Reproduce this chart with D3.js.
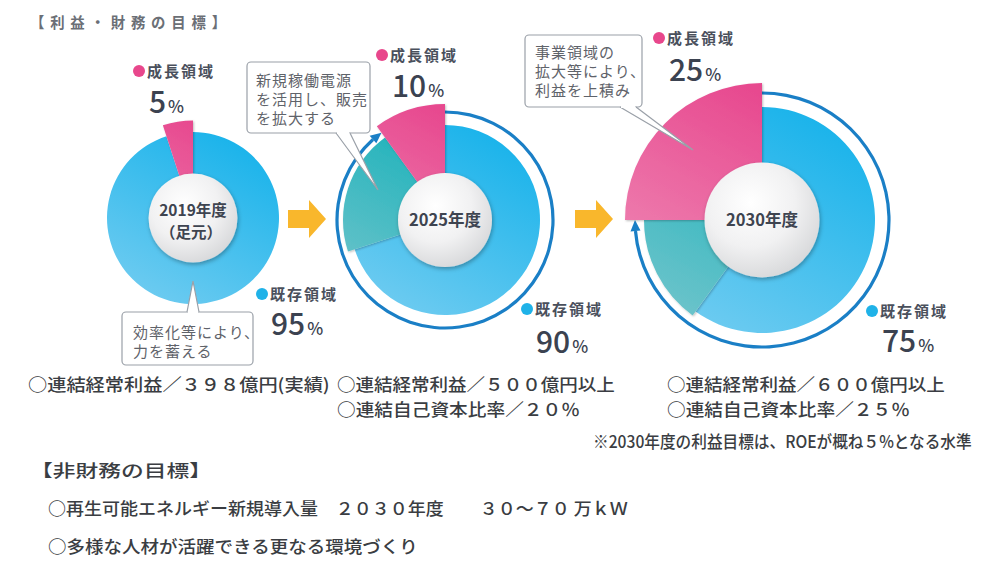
<!DOCTYPE html>
<html><head><meta charset="utf-8">
<script src="https://cdn.jsdelivr.net/npm/d3@7"></script>
<style>
html,body{margin:0;padding:0;background:#fff;}
svg{display:block;}
text{font-family:"Noto Sans CJK JP","Noto Sans",sans-serif;}
</style></head>
<body>
<script>
// ---------- DATA ----------
const years = ["2019年度", "2025年度", "2030年度"];
const yearSub = ["（足元）", "", ""];
const growthShare = [5, 10, 25];          // 成長領域 %
const existingShare = [95, 90, 75];       // 既存領域 %
const shiftShare = [0, 20, 15];           // part of 既存領域 highlighted (teal)
const growthLabel = "成長領域";
const existingLabel = "既存領域";
const callouts = [
  ["効率化等により、", "力を蓄える"],
  ["新規稼働電源", "を活用し、販売", "を拡大する"],
  ["事業領域の", "拡大等により、", "利益を上積み"]
];
const title1 = "【利益・財務の目標】";
const finRow1 = ["○連結経常利益／３９８億円(実績)", "○連結経常利益／５００億円以上", "○連結経常利益／６００億円以上"];
const finRow2 = ["", "○連結自己資本比率／２０％", "○連結自己資本比率／２５％"];
const finNote = "※2030年度の利益目標は、ROEが概ね５%となる水準";
const title2 = "【非財務の目標】";
const nonFin = ["○再生可能エネルギー新規導入量　２０３０年度　　３０～７０ 万ｋＷ", "○多様な人材が活躍できる更なる環境づくり"];

// ---------- LAYOUT ----------
const W = 1000, H = 577;
const cx = [193, 445, 762], cy = [218, 220, 220];
const rOut = [86, 95, 113], rIn = [44.5, 47, 57.5];
const rGrowth = [97.5, 116, 137], rShift = [86, 102, 118], rRing = [0, 108, 127];
const growthLblPos = [[139, 71], [382, 55], [659, 38]];
const growthNumPos = [[149, 113], [392, 97], [669, 81]];
const existLblPos = [[262, 294], [527, 309], [872, 311]];
const existNumPos = [[271, 335], [536, 353], [882, 352]];
const boxes = [
  {x:122, y:312, w:131, h:53, tail:[[187,312],[199,312],[193,281]], tx:133, ty:[333,352]},
  {x:247, y:62, w:123, h:71, tail:[[336,133],[350,133],[378,190]], tx:256, ty:[81,100,119]},
  {x:525, y:35, w:117, h:72, tail:[[620,107],[636,107],[693,150]], tx:535, ty:[53,72,91]}
];

const svg = d3.select("body").append("svg").attr("width", W).attr("height", H);
const defs = svg.append("defs");

function lin(id, c1, c2, r){
  const g = defs.append("linearGradient").attr("id", id)
    .attr("gradientUnits","userSpaceOnUse")
    .attr("x1", 0.6*r).attr("y1", -1.1*r).attr("x2", -0.6*r).attr("y2", 1.1*r);
  g.append("stop").attr("offset","0%").attr("stop-color",c1);
  g.append("stop").attr("offset","100%").attr("stop-color",c2);
}
const rg = defs.append("radialGradient").attr("id","white").attr("cx","40%").attr("cy","35%").attr("r","70%");
rg.append("stop").attr("offset","0%").attr("stop-color","#ffffff");
rg.append("stop").attr("offset","55%").attr("stop-color","#f1f1f2");
rg.append("stop").attr("offset","100%").attr("stop-color","#d6d7d9");
const f = defs.append("filter").attr("id","sh").attr("x","-30%").attr("y","-30%").attr("width","160%").attr("height","160%");
f.append("feDropShadow").attr("dx",1).attr("dy",2).attr("stdDeviation",2).attr("flood-color","#000").attr("flood-opacity",0.3);
const f2 = defs.append("filter").attr("id","sh2").attr("x","-30%").attr("y","-30%").attr("width","160%").attr("height","160%");
f2.append("feDropShadow").attr("dx",1).attr("dy",1).attr("stdDeviation",1).attr("flood-color","#000").attr("flood-opacity",0.25);

const pie = d3.pie().sort(null).value(d => d.v).startAngle(0).endAngle(2*Math.PI);

years.forEach((yr, i) => {
  const g = svg.append("g").attr("transform", `translate(${cx[i]},${cy[i]})`);
  lin("gB"+i, "#12b1ea", "#74cdf1", rOut[i]);
  lin("gP"+i, "#e6418a", "#f08db8", rOut[i]);
  lin("gT"+i, "#06adb6", "#73c5cc", rOut[i]);
  const slices = [
    {k:"B", v: existingShare[i] - shiftShare[i], r: rOut[i]},
    {k:"T", v: shiftShare[i], r: rShift[i]},
    {k:"P", v: growthShare[i], r: rGrowth[i]}
  ];
  const arcs = pie(slices);
  // ring with arrow
  if (i > 0) {
    const R = rRing[i];
    const endA = 2*Math.PI*(existingShare[i]/100);
    const headLen = 11;
    const bodyEnd = endA - headLen / R;
    g.append("path").attr("d", d3.arc().innerRadius(R-1.6).outerRadius(R+1.6).startAngle(0.0).endAngle(bodyEnd)())
      .attr("fill", "#1a7fc6");
    const tip = [R*Math.sin(endA), -R*Math.cos(endA)];
    const b = bodyEnd;
    const bl = [(R-5)*Math.sin(b), -(R-5)*Math.cos(b)];
    const br = [(R+5)*Math.sin(b), -(R+5)*Math.cos(b)];
    g.append("path").attr("d", `M${tip}L${bl}L${br}Z`).attr("fill", "#1a7fc6");
  }
  g.selectAll("path.s").data(arcs.filter(d => d.data.v > 0)).join("path").attr("class","s")
    .attr("d", d => d3.arc().innerRadius(rIn[i]-4).outerRadius(d.data.r)(d))
    .attr("fill", d => `url(#g${d.data.k}${i})`)
    .attr("filter", d => d.data.k === "B" ? null : "url(#sh2)");
  g.append("circle").attr("r", rIn[i]).attr("fill","url(#white)").attr("filter","url(#sh)");
  if (yearSub[i]) {
    g.append("text").attr("text-anchor","middle").attr("fill","#3e4450")
      .attr("font-size", 15.5).attr("font-weight", 700).attr("x", 0).attr("y", -2).text(yr);
    g.append("text").attr("text-anchor","middle").attr("fill","#3e4450")
      .attr("font-size", 15.5).attr("font-weight", 700).attr("x", -2).attr("y", 20).text(yearSub[i]);
  } else {
    g.append("text").attr("text-anchor","middle").attr("fill","#3e4450")
      .attr("font-size", 16.5).attr("font-weight", 700).attr("x", 0).attr("y", 6).text(yr);
  }
});

// arrows between donuts
const arrowX = [288, 575];
arrowX.forEach(x0 => {
  const y0 = 219;
  svg.append("path").attr("d", `M${x0},${y0-9}h21v-10l17,19l-17,19v-10h-21z`).attr("fill", "#f9b72c");
});

// labels
function catLabel(pos, color, label){
  svg.append("circle").attr("cx", pos[0]).attr("cy", pos[1]).attr("r", 6).attr("fill", color);
  svg.append("text").attr("x", pos[0]+8).attr("y", pos[1]+5.5).attr("fill","#4a505c")
    .attr("font-size", 15).attr("font-weight", 700).attr("letter-spacing", 2).text(label);
}
function bigNum(pos, v){
  const t = svg.append("text").attr("x", pos[0]).attr("y", pos[1]).attr("fill","#3b4250")
    .attr("font-family","Roboto, sans-serif").attr("font-weight",500);
  t.append("tspan").attr("font-size", 30).text(v);
  t.append("tspan").attr("font-size", 17).attr("dx", 2).text("%");
}
years.forEach((yr, i) => {
  catLabel(growthLblPos[i], "#e8478c", growthLabel);
  bigNum(growthNumPos[i], growthShare[i]);
  catLabel(existLblPos[i], "#1fb2e8", existingLabel);
  bigNum(existNumPos[i], existingShare[i]);
});

// callouts
boxes.forEach((b, i) => {
  const gb = svg.append("g");
  gb.append("rect").attr("x", b.x).attr("y", b.y).attr("width", b.w).attr("height", b.h).attr("rx", 4)
    .attr("fill","#fff").attr("stroke","#9aa0a8").attr("stroke-width",1.2);
  gb.append("path").attr("d", `M${b.tail[0]}L${b.tail[2]}L${b.tail[1]}`)
    .attr("fill","#fff").attr("stroke","#9aa0a8").attr("stroke-width",1.2);
  gb.append("line").attr("x1", b.tail[0][0]+1).attr("x2", b.tail[1][0]-1).attr("y1", b.tail[0][1]).attr("y2", b.tail[1][1])
    .attr("stroke","#fff").attr("stroke-width",2);
  callouts[i].forEach((line, j) => {
    gb.append("text").attr("x", b.tx).attr("y", b.ty[j]+5).attr("fill","#5f636a")
      .attr("font-size", 15).attr("letter-spacing", 1).text(line);
  });
});

// text fitted horizontally by scaling
function fitText(x, y, s, len, opts){
  opts = opts || {};
  const g = svg.append("g").attr("transform", `translate(${x},${y})`);
  const t = g.append("text").attr("x", 0).attr("y", 0).attr("fill", opts.color || "#3a3d42")
    .attr("font-size", opts.size || 17).attr("font-weight", opts.weight || 500)
    .attr("letter-spacing", opts.ls || 0).text(s);
  const nat = t.node().getComputedTextLength();
  g.attr("transform", `translate(${x},${y}) scale(${len/nat},1)`);
}
fitText(30, 28, title1, 202, {color:"#6b6f76", size:15, weight:700, ls:6});

const colX = [28, 337, 667];
const r1Len = [302, 278, 278];
const r2Len = [0, 243, 243];
finRow1.forEach((s, i) => fitText(colX[i], 391, s, r1Len[i]));
finRow2.forEach((s, i) => { if (s) fitText(colX[i], 416, s, r2Len[i]); });
fitText(593, 448, finNote, 379);
fitText(30, 477, title2, 182);
fitText(48, 515, nonFin[0], 580);
fitText(48, 553, nonFin[1], 370);
</script>
</body></html>
